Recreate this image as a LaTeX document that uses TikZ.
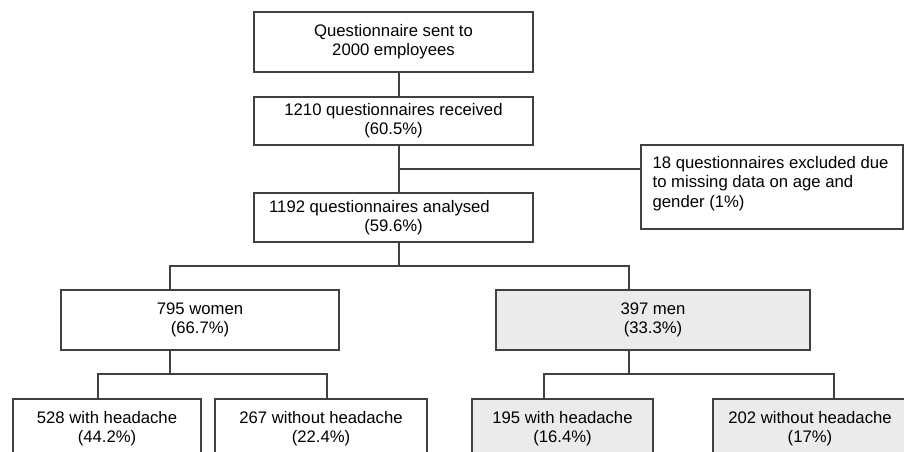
\documentclass[tikz,border=0pt]{standalone}
\usepackage{fontspec}
\setmainfont{Liberation Sans}
\usepackage{tikz}

\definecolor{linegray}{HTML}{404040}
\definecolor{mengray}{HTML}{EBEBEB}

\begin{document}
\begin{tikzpicture}[x=1pt, y=-1pt]
            \tikzset{
                box/.style={draw=linegray, line width=1.1pt, fill=white,
                    inner sep=0pt, align=center,
                    font=\fontsize{16.7}{19.3}\selectfont},
                menbox/.style={box, fill=mengray},
                link/.style={draw=linegray, line width=1.1pt}
            }

            \useasboundingbox (0,0) rectangle (904,452);
            \clip (0,0) rectangle (904,452);

            % main column
            \node[box, minimum width=279pt, minimum height=60pt] (sent) at (393.5,42)
                {Questionnaire sent to\\2000 employees};
            \node[box, minimum width=279pt, minimum height=48pt] (recv) at (393.5,121)
                {1210 questionnaires received\\(60.5\%)};
            \node[box, minimum width=279pt, minimum height=49pt] (anal) at (393.5,217.5)
                {1192 questionnaires analysed\hspace*{28pt}\\(59.6\%)};

            % exclusion
            \node[box, minimum width=262pt, minimum height=84pt] (excl) at (772,187) {};
            \node[anchor=north west, inner sep=0pt, align=left,
                font=\fontsize{16.7}{19.3}\selectfont] (excltext)
                at ([xshift=12pt, yshift=-11.8pt]excl.north west)
                {18 questionnaires excluded due\\to missing data on age and\\gender (1\%)};

            % gender
            \node[box, minimum width=278pt, minimum height=60pt] (women) at (200,320)
                {795 women\\(66.7\%)};
            \node[menbox, minimum width=314pt, minimum height=60pt] (men) at (653,320)
                {397 men\\(33.3\%)};

            % headache
            \node[box, minimum width=188pt, minimum height=60pt] (w1) at (107,429)
                {528 with headache\\(44.2\%)};
            \node[box, minimum width=212pt, minimum height=60pt] (w2) at (321,429)
                {267 without headache\\(22.4\%)};
            \node[menbox, minimum width=181pt, minimum height=60pt] (m1) at (562.5,429)
                {195 with headache\\(16.4\%)};
            \node[menbox, minimum width=194pt, minimum height=60pt] (m2) at (810,429)
                {202 without headache\\(17\%)};

            % connectors
            \coordinate (spine) at (399,0);
            \coordinate (split) at (399,169);
            \coordinate (fork) at (399,266);
            \coordinate (wx) at (170,0);
            \coordinate (mx) at (629,0);
            \coordinate (wfork) at (170,374);
            \coordinate (mfork) at (629,374);
            \coordinate (w1x) at (98,0);
            \coordinate (w2x) at (327,0);
            \coordinate (m1x) at (544,0);
            \coordinate (m2x) at (834,0);

            \draw[link] (sent.south -| spine) -- (recv.north -| spine);
            \draw[link] (recv.south -| spine) -- (anal.north -| spine);
            \draw[link] (split) -- (split -| excl.west);
            \draw[link] (anal.south -| spine) -- (fork);
            \draw[link] (women.north -| wx) |- (fork) -| (men.north -| mx);
            \draw[link] (women.south -| wx) -- (wfork);
            \draw[link] (men.south -| mx) -- (mfork);
            \draw[link] (w1.north -| w1x) |- (wfork) -| (w2.north -| w2x);
            \draw[link] (m1.north -| m1x) |- (mfork) -| (m2.north -| m2x);
        \end{tikzpicture}
\end{document}
